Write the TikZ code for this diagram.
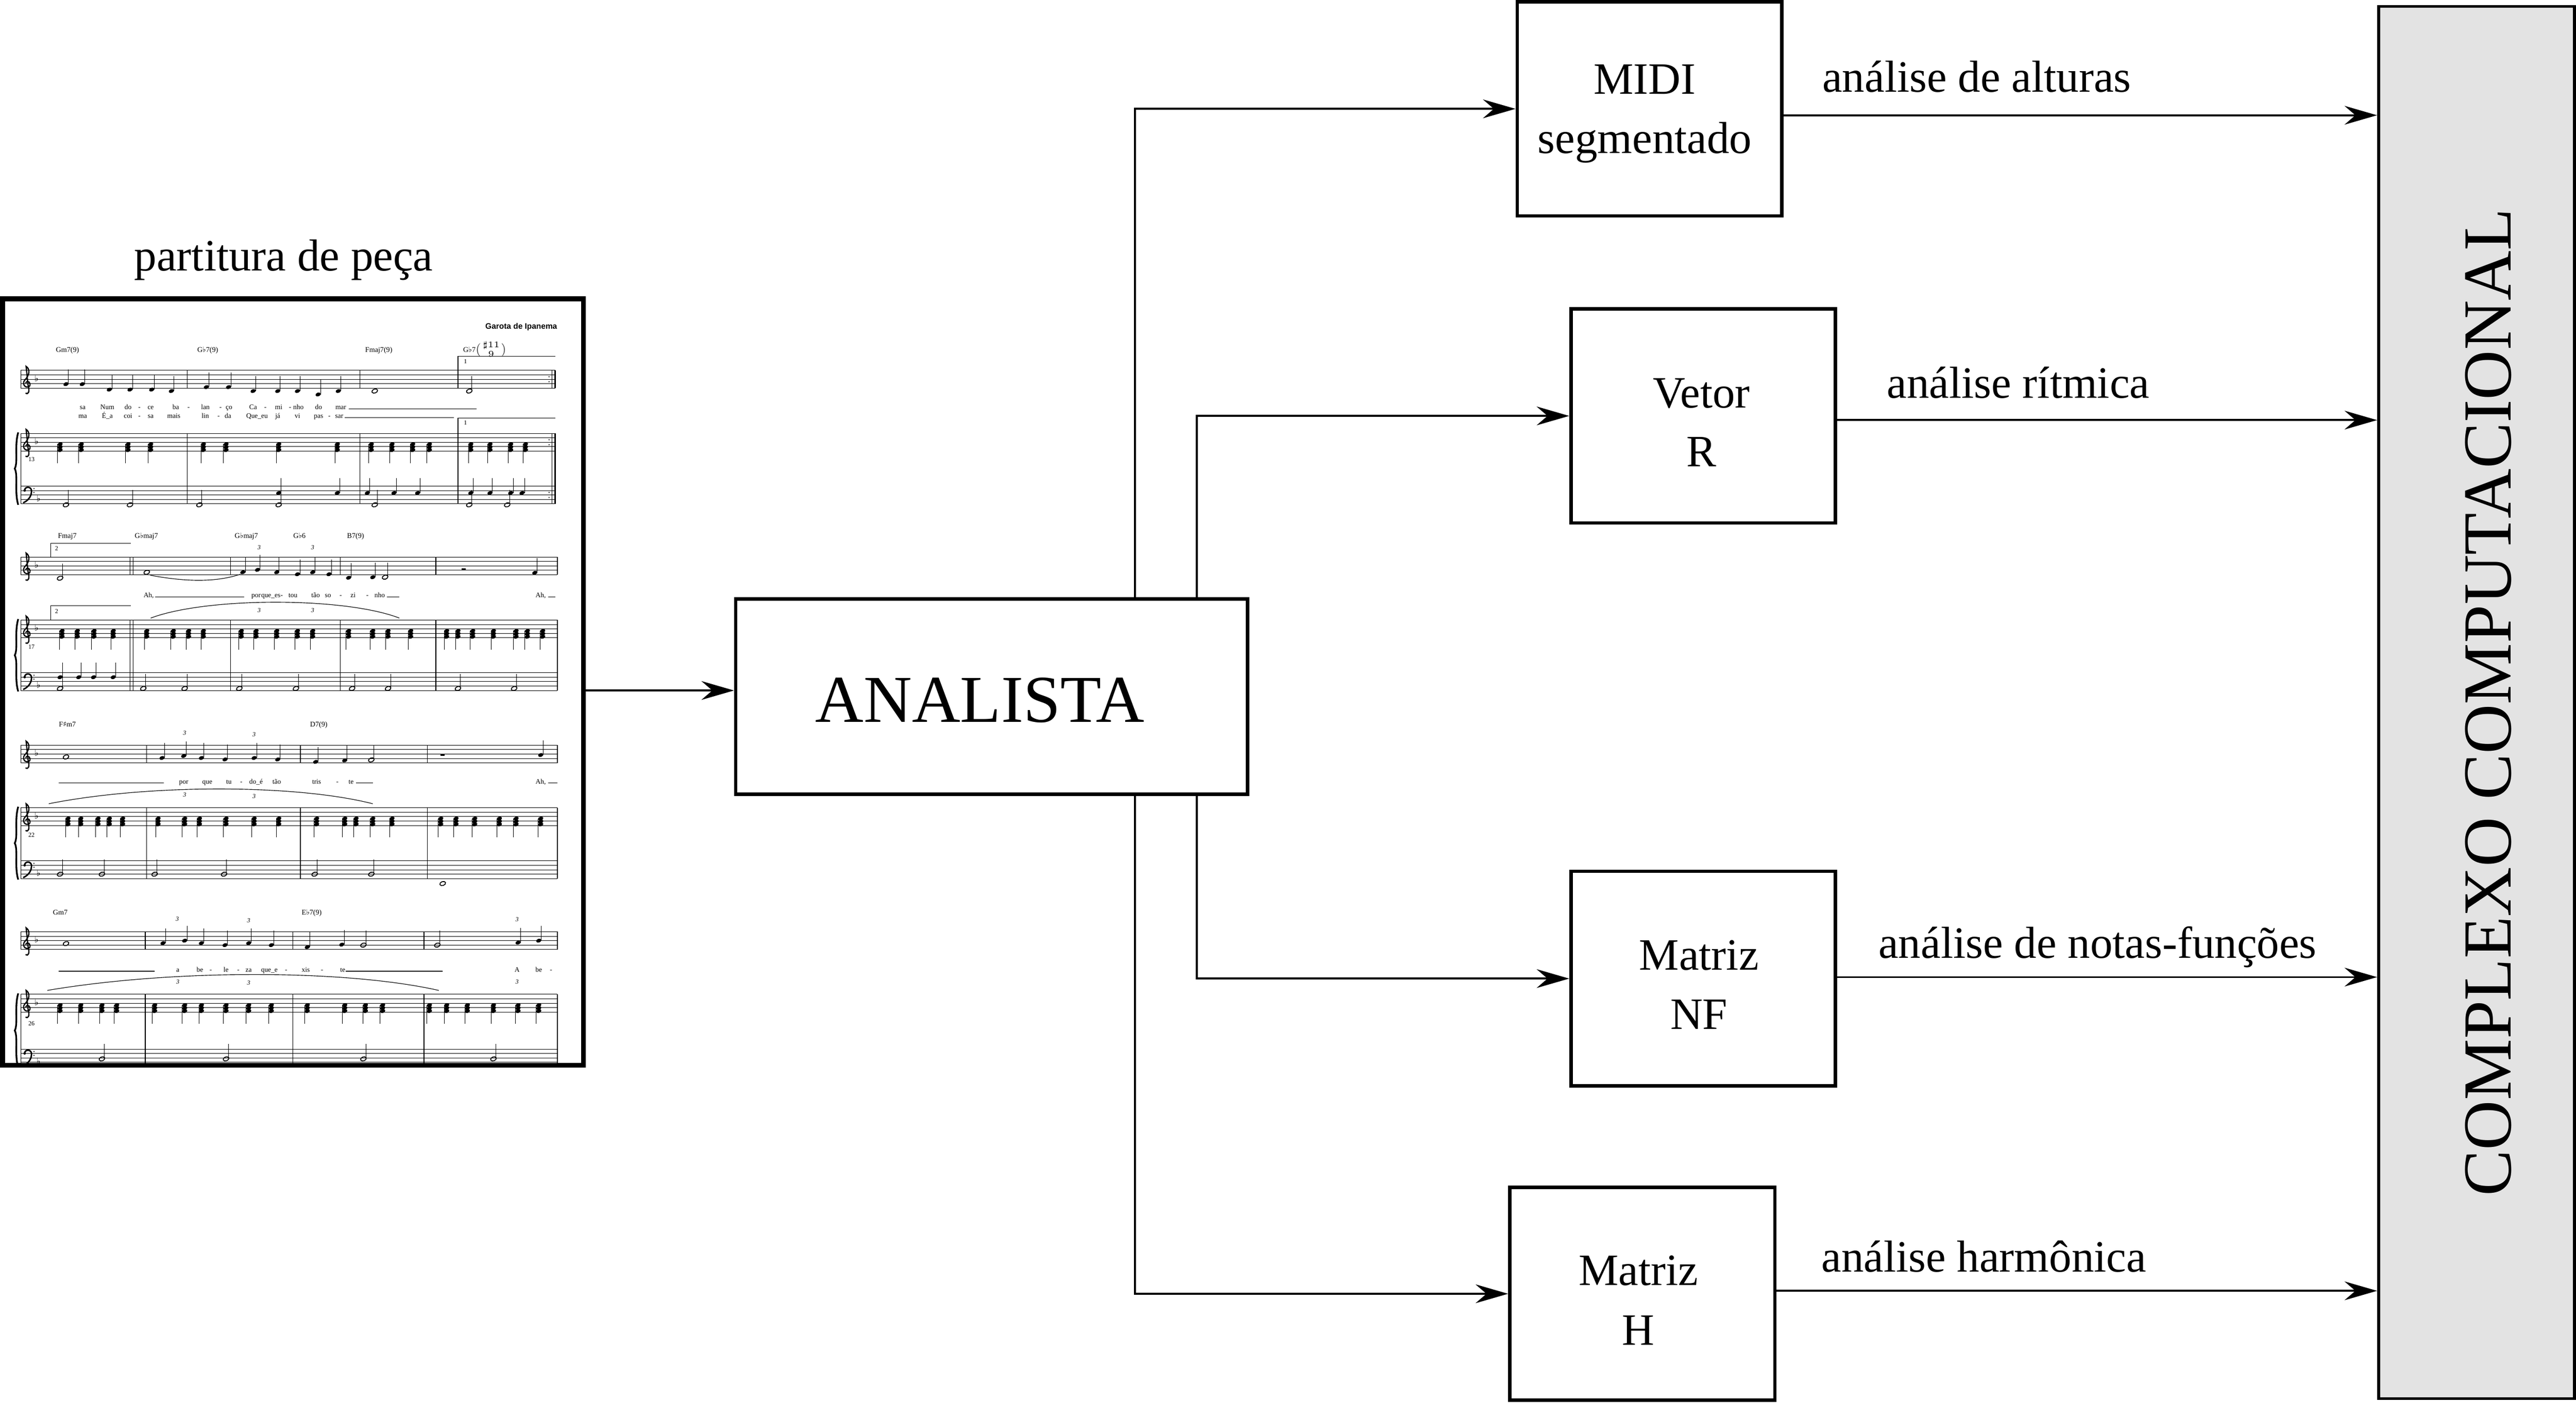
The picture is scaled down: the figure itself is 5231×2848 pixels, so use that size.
\documentclass[tikz,border=0pt]{standalone}
\usepackage{amsmath}
\usepackage{fontspec}
\setmainfont{Liberation Serif}
\newfontfamily\symf{DejaVu Sans}
\newfontfamily\titlef{Liberation Sans}
\usetikzlibrary{arrows.meta}
\definecolor{ccgray}{HTML}{E3E3E3}
\newcommand\myflat{{\symf ♭}}
\newcommand\mysharp{{\symf ♯}}
% music helpers
\newcommand\nup[2]{\fill[shift={(#1,#2)},rotate=20] (0,0) ellipse [x radius=0.55mm,y radius=0.38mm];
  \draw[line width=0.1mm] ({#1+5},#2) -- ({#1+5},{#2-30});}
\newcommand\nwhole[2]{\draw[line width=0.18mm,shift={(#1,#2)},rotate=20] (0,0) ellipse [x radius=0.6mm,y radius=0.4mm];}
\newcommand\nhalf[2]{\nwhole{#1}{#2}\draw[line width=0.1mm] ({#1+5},#2) -- ({#1+5},{#2-30});}
\newcommand\nchord[2]{\foreach \q in {22,28,34} {\fill[shift={(#1,{#2+\q})},rotate=20] (0,0) ellipse [x radius=0.55mm,y radius=0.38mm];}
  \draw[line width=0.1mm] ({#1-5},{#2+22}) -- ({#1-5},{#2+60});}
\newcommand\musicsystem[4]{%
  \foreach \s in {#1,#2,#3} {\foreach \k in {0,...,4} {\draw[staff] (42,{\s+9*\k}) -- (#4,{\s+9*\k});}}
  \draw[bar] (42,#1) -- (42,{#1+36});
  \draw[bar] (42,#2) -- (42,{#3+36});
  \draw[bar] (#4,#1) -- (#4,{#1+36});
  \draw[bar] (#4,#2) -- (#4,{#3+36});
  \draw[line width=0.35mm] (37,{#2-2}) .. controls (29,{#2+25}) and (37,{(#2+#3)/2+5}) .. (30,{(#2+#3+36)/2})
     .. controls (37,{(#2+#3)/2+31}) and (29,{#3+12}) .. (37,{#3+38});
  \foreach \s in {#1,#2} {\draw[line width=0.25mm] (52,{\s+46}) .. controls (57,{\s+50}) and (61,{\s+44}) .. (57,{\s+30})
     -- (53,{\s-8}) .. controls (60,{\s-4}) and (62,{\s+8}) .. (50,{\s+20})
     .. controls (44,{\s+28}) and (52,{\s+38}) .. (60,{\s+32}) .. controls (64,{\s+26}) and (56,{\s+18}) .. (52,{\s+26});
     \node[font=\fontsize{5}{5}\selectfont\symf,inner sep=0] at (74,{\s+16}) {♭};}
  \fill (50,{#3+9}) circle [radius=0.25mm];
  \draw[line width=0.3mm] (50,{#3+9}) .. controls (50,{#3}) and (64,{#3}) .. (64,{#3+10}) .. controls (64,{#3+22}) and (56,{#3+30}) .. (47,{#3+34});
  \fill (69,{#3+5}) circle [radius=0.12mm] (69,{#3+13}) circle [radius=0.12mm];
  \node[font=\fontsize{5}{5}\selectfont\symf,inner sep=0] at (78,{#3+25}) {♭};
}
\newcommand\musicbars[4]{\foreach \b in {#4} {\draw[bar] (\b,#1) -- (\b,{#1+36}); \draw[bar] (\b,#2) -- (\b,{#3+36});}}
\begin{document}
\begin{tikzpicture}[x=0.1mm,y=-0.1mm,
  box/.style={draw,line width=0.7mm,inner sep=0pt},
  lbl/.style={font=\fontsize{25.9}{30}\selectfont,inner sep=0pt,anchor=base},
  arr/.style={line width=0.4mm,-{Stealth[length=6.6mm,width=3.8mm,inset=2.2mm]}},
  staff/.style={line width=0.1mm},
  bar/.style={line width=0.12mm},
  chd/.style={font=\fontsize{4.2}{5}\selectfont,inner sep=0pt,anchor=base west},
  lyr/.style={font=\fontsize{4}{5}\selectfont,inner sep=0pt,anchor=base},
  small/.style={font=\fontsize{3.6}{4}\selectfont,inner sep=0pt,anchor=base},
  trip/.style={font=\fontsize{3.6}{4}\selectfont\itshape,inner sep=0pt,anchor=base},
]
\useasboundingbox (0,0) rectangle (5231,2848);
\fill[white] (0,0) rectangle (5231,2848);

% ---------------- score sheet ----------------
\begin{scope}
\clip (10,612) rectangle (1180,2158);
\node[font=\titlef\bfseries\fontsize{4.6}{5}\selectfont,anchor=base east,inner sep=0] (title) at (1132,668) {Garota de Ipanema};

% system 1
\musicsystem{752}{880}{987}{1128}
\musicbars{752}{880}{987}{380,731,930}
\draw[line width=0.35mm] (1127,752) -- (1127,788) (1127,880) -- (1127,1023);
\draw[bar] (1121,752) -- (1121,788) (1121,880) -- (1121,1023);
\foreach \y in {765,775,893,903,1000,1010} {\fill (1115,\y) circle [radius=0.12mm];}
\node[chd] (c11) at (113,715) {Gm7(9)};
\node[chd] (c12) at (400,715) {G\myflat7(9)};
\node[chd] (c13) at (741,715) {Fmaj7(9)};
\node[chd] (c14) at (940,715) {G\myflat7$\bigl(\genfrac{}{}{0pt}{}{\sharp 11}{9}\bigr)$};
\draw[bar] (930,752) -- (930,723) -- (1128,723);
\draw[bar] (930,880) -- (930,849) -- (1128,849);
\node[small] at (945,738) {1};
\node[small] at (945,863) {1};
\node[small] at (64,937) {13};
\foreach \x/\y in {134/780,167/780,222/791,264/791,308/791,348/794,419/786,464/786,514/794,564/794,604/794,646/801,687/794} {\nup{\x}{\y}}
\nwhole{761}{794} \nhalf{953}{794}
\foreach \x in {122,165,260,306,413,459,566,685,754,796,838,872,956,995,1037,1067} {\nchord{\x}{880}}
\foreach \x in {134,264,405,566,761,953,1030} {\nhalf{\x}{1025}}
\foreach \x in {566,685,746,800,848,956,995,1037,1060} {\nup{\x}{1001}}
\foreach \x/\t in {168/sa,218/Num,260/do,283/-,306/ce,357/ba,383/-,417/lan,448/-,465/ço,514/Ca,539/-,566/mi,589/-,606/nho,647/do,692/mar} {\node[lyr] at (\x,831) {\t};}
\foreach \x/\t in {168/ma,218/É\_a,260/coi,283/-,306/sa,353/mais,417/lin,444/-,463/da,522/Que\_eu,564/já,604/vi,647/pas,669/-,689/sar} {\node[lyr] at (\x,849) {\t};}
\draw[bar] (708,830) -- (968,830);
\draw[bar] (700,848) -- (922,848);

% system 2
\musicsystem{1131}{1259}{1366}{1132}
\musicbars{1131}{1259}{1366}{264,468,691,885}
\draw[bar] (270,1131) -- (270,1167) (270,1259) -- (270,1402);
\node[chd] at (117,1093) {Fmaj7};
\node[chd] at (273,1093) {G\myflat maj7};
\node[chd] at (476,1093) {G\myflat maj7};
\node[chd] at (595,1093) {G\myflat6};
\node[chd] at (704,1093) {B7(9)};
\draw[bar] (103,1131) -- (103,1103) -- (266,1103);
\draw[bar] (103,1259) -- (103,1230) -- (266,1230);
\node[small] at (115,1118) {2};
\node[small] at (115,1245) {2};
\node[small] at (64,1318) {17};
\node[trip] at (526,1116) {3}; \node[trip] at (635,1116) {3};
\node[trip] at (526,1243) {3}; \node[trip] at (635,1243) {3};
\foreach \x/\y in {493/1162,523/1157,562/1162,604/1166,635/1162,668/1166,708/1173,757/1172,1086/1163} {\nup{\x}{\y}}
\nhalf{122}{1174} \nwhole{298}{1162} \nhalf{782}{1172}
\fill (937,1154) rectangle (946,1158);
\foreach \x in {126,157,191,230,298,352,383,413,490,520,562,604,635,708,757,788,834,907,930,960,1002,1048,1071,1102} {\nchord{\x}{1259}}
\foreach \x in {122,291,375,486,601,715,788,930,1044} {\nhalf{\x}{1398}}
\foreach \x in {122,160,190,230} {\nup{\x}{1375}}
\draw[line width=0.12mm] (306,1255) .. controls (420,1212) and (700,1212) .. (811,1255);
\draw[line width=0.12mm] (305,1168) .. controls (380,1182) and (440,1182) .. (488,1166);
\node[lyr] at (302,1213) {Ah,};
\draw[bar] (315,1212) -- (496,1212);
\foreach \x/\t in {520/por,550/que\_es,572/-,595/tou,641/tão,666/so,692/-,717/zi,746/-,771/nho} {\node[lyr] at (\x,1213) {\t};}
\draw[bar] (786,1212) -- (811,1212);
\node[lyr] at (1098,1213) {Ah,};
\draw[bar] (1113,1212) -- (1128,1212);

% system 3
\musicsystem{1513}{1640}{1748}{1132}
\musicbars{1513}{1640}{1748}{298,610,868}
\node[chd] at (119,1476) {F\mysharp m7};
\node[chd] at (629,1476) {D7(9)};
\node[small] at (64,1700) {22};
\node[trip] at (375,1492) {3}; \node[trip] at (516,1495) {3};
\node[trip] at (375,1618) {3}; \node[trip] at (516,1621) {3};
\foreach \x/\y in {329/1539,373/1535,409/1539,457/1542,516/1539,564/1542,641/1547,700/1544,1098/1533} {\nup{\x}{\y}}
\nwhole{134}{1537} \nhalf{754}{1543}
\fill (894,1531) rectangle (903,1535);
\foreach \x in {138,164,199,222,249,321,375,405,459,516,566,643,700,723,757,796,895,926,964,1014,1048,1098} {\nchord{\x}{1640}}
\foreach \x in {122,207,314,455,639,754} {\nhalf{\x}{1775}}
\nwhole{899}{1794}
\draw[line width=0.12mm] (99,1632) .. controls (300,1592) and (600,1592) .. (757,1632);
\draw[bar] (119,1590) -- (333,1590);
\foreach \x/\t in {373/por,421/que,465/tu,490/-,520/do\_é,562/tão,643/tris,685/-,713/te} {\node[lyr] at (\x,1592) {\t};}
\draw[bar] (723,1590) -- (757,1590);
\node[lyr] at (1098,1592) {Ah,};
\draw[bar] (1113,1590) -- (1132,1590);

% system 4
\musicsystem{1892}{2019}{2130}{1132}
\musicbars{1892}{2019}{2130}{295,595,861}
\node[chd] at (107,1857) {Gm7};
\node[chd] at (612,1857) {E\myflat7(9)};
\node[small] at (64,2082) {26};
\node[trip] at (360,1870) {3}; \node[trip] at (505,1873) {3}; \node[trip] at (1050,1871) {3};
\node[trip] at (361,1998) {3}; \node[trip] at (505,2000) {3}; \node[trip] at (1050,1998) {3};
\foreach \x/\y in {331/1915,375/1910,409/1915,457/1919,505/1915,551/1919,624/1923,694/1918,1052/1914,1094/1910} {\nup{\x}{\y}}
\nwhole{134}{1916} \nhalf{738}{1919} \nhalf{888}{1919}
\foreach \x in {122,164,207,237,314,375,409,459,505,551,624,700,742,777,872,907,949,1002,1052,1094} {\nchord{\x}{2019}}
\foreach \x in {207,459,738,1002} {\nhalf{\x}{2150}}
\draw[line width=0.12mm] (96,2011) .. controls (350,1968) and (700,1968) .. (891,2011);
\draw[bar] (119,1972) -- (314,1972);
\foreach \x/\t in {361/a,406/be,428/-,459/le,484/-,505/za,547/que\_e,581/-,621/xis,654/-,696/te} {\node[lyr] at (\x,1974) {\t};}
\draw[bar] (702,1972) -- (899,1972);
\foreach \x/\t in {1050/A,1094/be,1119/-} {\node[lyr] at (\x,1974) {\t};}
\end{scope}
\node[draw,line width=1mm,inner sep=0pt,minimum width=118mm,minimum height=155.6mm,anchor=north west] (score) at (0,602) {};
\node[lbl] (scoreT) at (576,550) {partitura de peça};

% ---------------- boxes ----------------
\node[box,minimum width=103.9mm,minimum height=39.7mm] (analista) at (2013.5,1414.5) {};
\node[lbl,font=\fontsize{38.7}{40}\selectfont] (analistaT) at (1990,1466) {ANALISTA};

\node[box,minimum width=53.7mm,minimum height=43.5mm] (midi) at (3349.5,221) {};
\node[lbl] (midiA) at (3340,191) {MIDI};
\node[lbl] (midiB) at (3340,311) {segmentado};

\node[box,minimum width=53.7mm,minimum height=43.5mm] (vetor) at (3458.5,844.5) {};
\node[lbl] (vetorA) at (3455,828) {Vetor};
\node[lbl] (vetorB) at (3455,947) {R};

\node[box,minimum width=53.7mm,minimum height=43.6mm] (nf) at (3458.5,1987) {};
\node[lbl] (nfA) at (3450,1969) {Matriz};
\node[lbl] (nfB) at (3450,2090) {NF};

\node[box,minimum width=53.8mm,minimum height=43.2mm] (h) at (3335,2627) {};
\node[lbl] (hA) at (3327,2610) {Matriz};
\node[lbl] (hB) at (3327,2731) {H};

\node[draw,line width=0.6mm,fill=ccgray,inner sep=0pt,minimum width=39.8mm,minimum height=282.7mm] (cc) at (5029,1426.5) {};
\node[lbl,font=\fontsize{39.8}{40}\selectfont,rotate=90] (ccT) at (5099,1426) {COMPLEXO COMPUTACIONAL};

% ---------------- connectors ----------------
\coordinate (laneA) at (2305,0);
\coordinate (laneB) at (2430,0);
\coordinate (inS) at (0,1402);
\coordinate (o1) at (0,234);
\coordinate (o2) at (0,853);
\coordinate (o3) at (0,1984);
\coordinate (o4) at (0,2621);

\draw[arr] (score.east |- inS) -- (analista.west |- inS);
\draw[arr] (analista.north -| laneA) |- (midi.west);
\draw[arr] (analista.north -| laneB) |- (vetor.west);
\draw[arr] (analista.south -| laneB) |- (nf.west);
\draw[arr] (analista.south -| laneA) |- (h.west);

\draw[arr] (midi.east |- o1) -- (cc.west |- o1);
\draw[arr] (vetor.east |- o2) -- (cc.west |- o2);
\draw[arr] (nf.east |- o3) -- (cc.west |- o3);
\draw[arr] (h.east |- o4) -- (cc.west |- o4);

\node[lbl,anchor=base west] (l1) at (3700,187) {análise de alturas};
\node[lbl,anchor=base west] (l2) at (3831,808) {análise rítmica};
\node[lbl,anchor=base west] (l3) at (3814,1945) {análise de notas-funções};
\node[lbl,anchor=base west] (l4) at (3698,2582) {análise harmônica};
\end{tikzpicture}
\end{document}
